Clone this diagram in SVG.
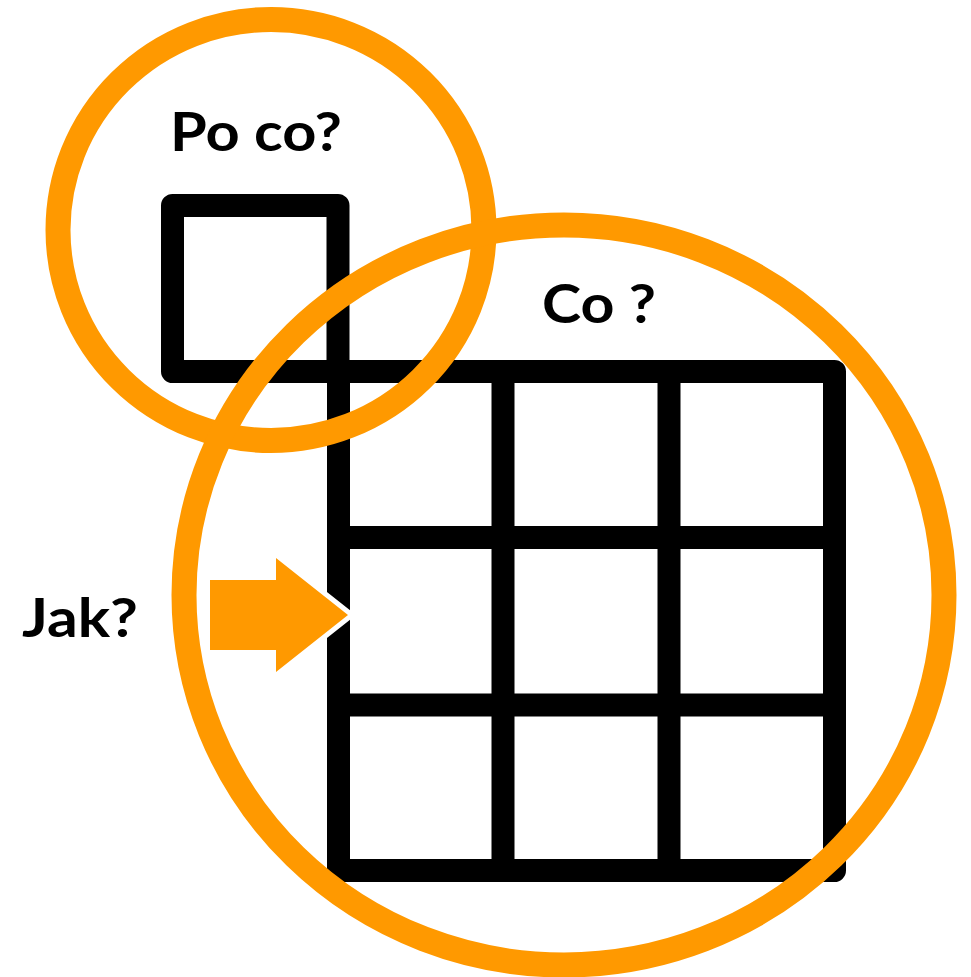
<svg xmlns="http://www.w3.org/2000/svg" width="971" height="977" viewBox="0 0 971 977">
  <style>
    .frame { fill: none; stroke: #000000; stroke-width: 23; stroke-linejoin: round; }
    .ring { fill: none; stroke: #FF9900; stroke-width: 25; }
    .label { font-family: "Lato", "Liberation Sans", sans-serif; font-weight: 700; font-size: 53px; fill: #000000; }
    .arrow { fill: #FF9900; stroke: #FFFFFF; stroke-width: 10; stroke-linejoin: miter; paint-order: stroke; }
  </style>
  <rect width="971" height="977" fill="#FFFFFF"/>

  <g id="grid">
    <rect class="frame" x="172.5" y="205.5" width="165.5" height="166"/>
    <rect class="frame" x="338.5" y="371.5" width="496" height="499"/>
    <line class="frame" x1="503" y1="371.5" x2="503" y2="870.5"/>
    <line class="frame" x1="669" y1="371.5" x2="669" y2="870.5"/>
    <line class="frame" x1="338.5" y1="537.5" x2="834.5" y2="537.5"/>
    <line class="frame" x1="338.5" y1="705" x2="834.5" y2="705"/>
  </g>

  <g id="po-co">
    <ellipse class="ring" cx="271" cy="230" rx="213" ry="210.5"/>
    <text class="label" x="170" y="151" textLength="172" lengthAdjust="spacingAndGlyphs">Po co?</text>
  </g>

  <g id="co">
    <ellipse class="ring" cx="564" cy="595" rx="380" ry="370"/>
    <text class="label" x="542" y="323" textLength="114" lengthAdjust="spacingAndGlyphs">Co ?</text>
  </g>

  <g id="jak">
    <text class="label" x="22" y="637" textLength="116" lengthAdjust="spacingAndGlyphs">Jak?</text>
  </g>

  <g id="connectors">
    <polygon class="arrow" points="210,580 276,580 276,558 348,615 276,672 276,650 210,650"/>
  </g>
</svg>
